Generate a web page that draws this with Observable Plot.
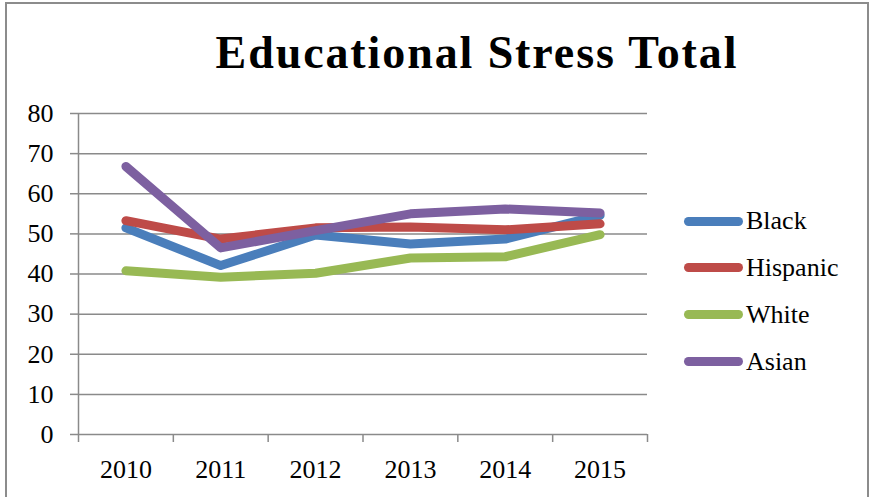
<!DOCTYPE html>
<html>
<head>
<meta charset="utf-8">
<script src="https://cdn.jsdelivr.net/npm/d3@7"></script>
<script src="https://cdn.jsdelivr.net/npm/@observablehq/plot@0.6"></script>
<style>
  html, body { margin: 0; padding: 0; background: #fff; overflow: hidden; }
  #wrap { position: relative; width: 875px; height: 497px; overflow: hidden; font-family: "Liberation Serif", "DejaVu Serif", serif; }
  #frame { position: absolute; left: 5px; top: 2px; width: 864px; height: 600px; border: 2px solid #8c8c8c; box-sizing: border-box; }
  #chart { position: absolute; left: 0; top: 0; }
  #title { position: absolute; left: 0; top: 30px; width: 954px; text-align: center; font-size: 46px; line-height: 46px; font-weight: bold; letter-spacing: 1.9px; color: #000; white-space: nowrap; }
  #legend { position: absolute; left: 684px; top: 208px; display: flex; flex-direction: column; gap: 20.9px; }
  .row { display: flex; align-items: center; height: 26px; font-size: 26px; line-height: 26px; color: #000; }
  .sw { width: 59px; height: 9px; border-radius: 4.5px; margin-right: 3px; }
</style>
</head>
<body>
<div id="wrap">
  <div id="frame"></div>
  <div id="chart"></div>
  <div id="title">Educational Stress Total</div>
  <div id="legend"></div>
</div>
<script>
const years = [2010, 2011, 2012, 2013, 2014, 2015];
const seriesNames = ["Black", "Hispanic", "White", "Asian"];
const black    = [51.5, 42.1, 49.7, 47.5, 48.7, 54.6];
const hispanic = [53.3, 48.7, 51.5, 51.7, 51.0, 52.5];
const white    = [40.8, 39.2, 40.2, 44.0, 44.3, 49.8];
const asian    = [66.8, 46.5, 50.8, 55.0, 56.2, 55.2];
const colors = ["#4A7EBB", "#BE4B48", "#98B954", "#7D60A0"];
const yTicks = [0, 10, 20, 30, 40, 50, 60, 70, 80];

const seriesValues = [black, hispanic, white, asian];
const data = seriesNames.flatMap((s, i) => years.map((yr, j) => ({series: s, year: yr, value: seriesValues[i][j]})));
const bounds = [years[0] - 0.5, ...years.map(y => y + 0.5)];

const plot = Plot.plot({
  width: 875,
  height: 497,
  marginLeft: 78,
  marginRight: 228,
  marginTop: 113,
  marginBottom: 63,
  x: {domain: [years[0] - 0.5, years[years.length - 1] + 0.5]},
  y: {domain: [0, 80]},
  color: {domain: seriesNames, range: colors},
  style: {fontFamily: "Liberation Serif, serif", fontSize: "26px", color: "#000", background: "transparent"},
  marks: [
    Plot.ruleY(yTicks.filter(d => d > 0), {stroke: "#8a8a8a", strokeWidth: 1.5}),
    Plot.ruleY([0], {stroke: "#8a8a8a", strokeWidth: 1.5}),
    Plot.ruleX([bounds[0]], {stroke: "#8a8a8a", strokeWidth: 1.5}),
    Plot.axisY(yTicks, {tickSize: 8, tickPadding: 17, stroke: "#8a8a8a", fill: "#000", fontSize: 26, label: null, strokeWidth: 1.5}),
    Plot.axisX(bounds, {tickSize: 8, tickFormat: () => "", stroke: "#8a8a8a", label: null, strokeWidth: 1.5}),
    Plot.axisX(years, {tickSize: 0, tickPadding: 25, tickFormat: d => String(d), fill: "#000", fontSize: 26, label: null}),
    Plot.line(data, {x: "year", y: "value", z: "series", stroke: "series", strokeWidth: 9, strokeLinecap: "round", strokeLinejoin: "round"})
  ]
});
document.getElementById("chart").appendChild(plot);

const legend = document.getElementById("legend");
seriesNames.forEach((s, i) => {
  const row = document.createElement("div");
  row.className = "row";
  const sw = document.createElement("div");
  sw.className = "sw";
  sw.style.background = colors[i];
  const label = document.createElement("span");
  label.textContent = s;
  row.appendChild(sw);
  row.appendChild(label);
  legend.appendChild(row);
});
</script>
</body>
</html>
